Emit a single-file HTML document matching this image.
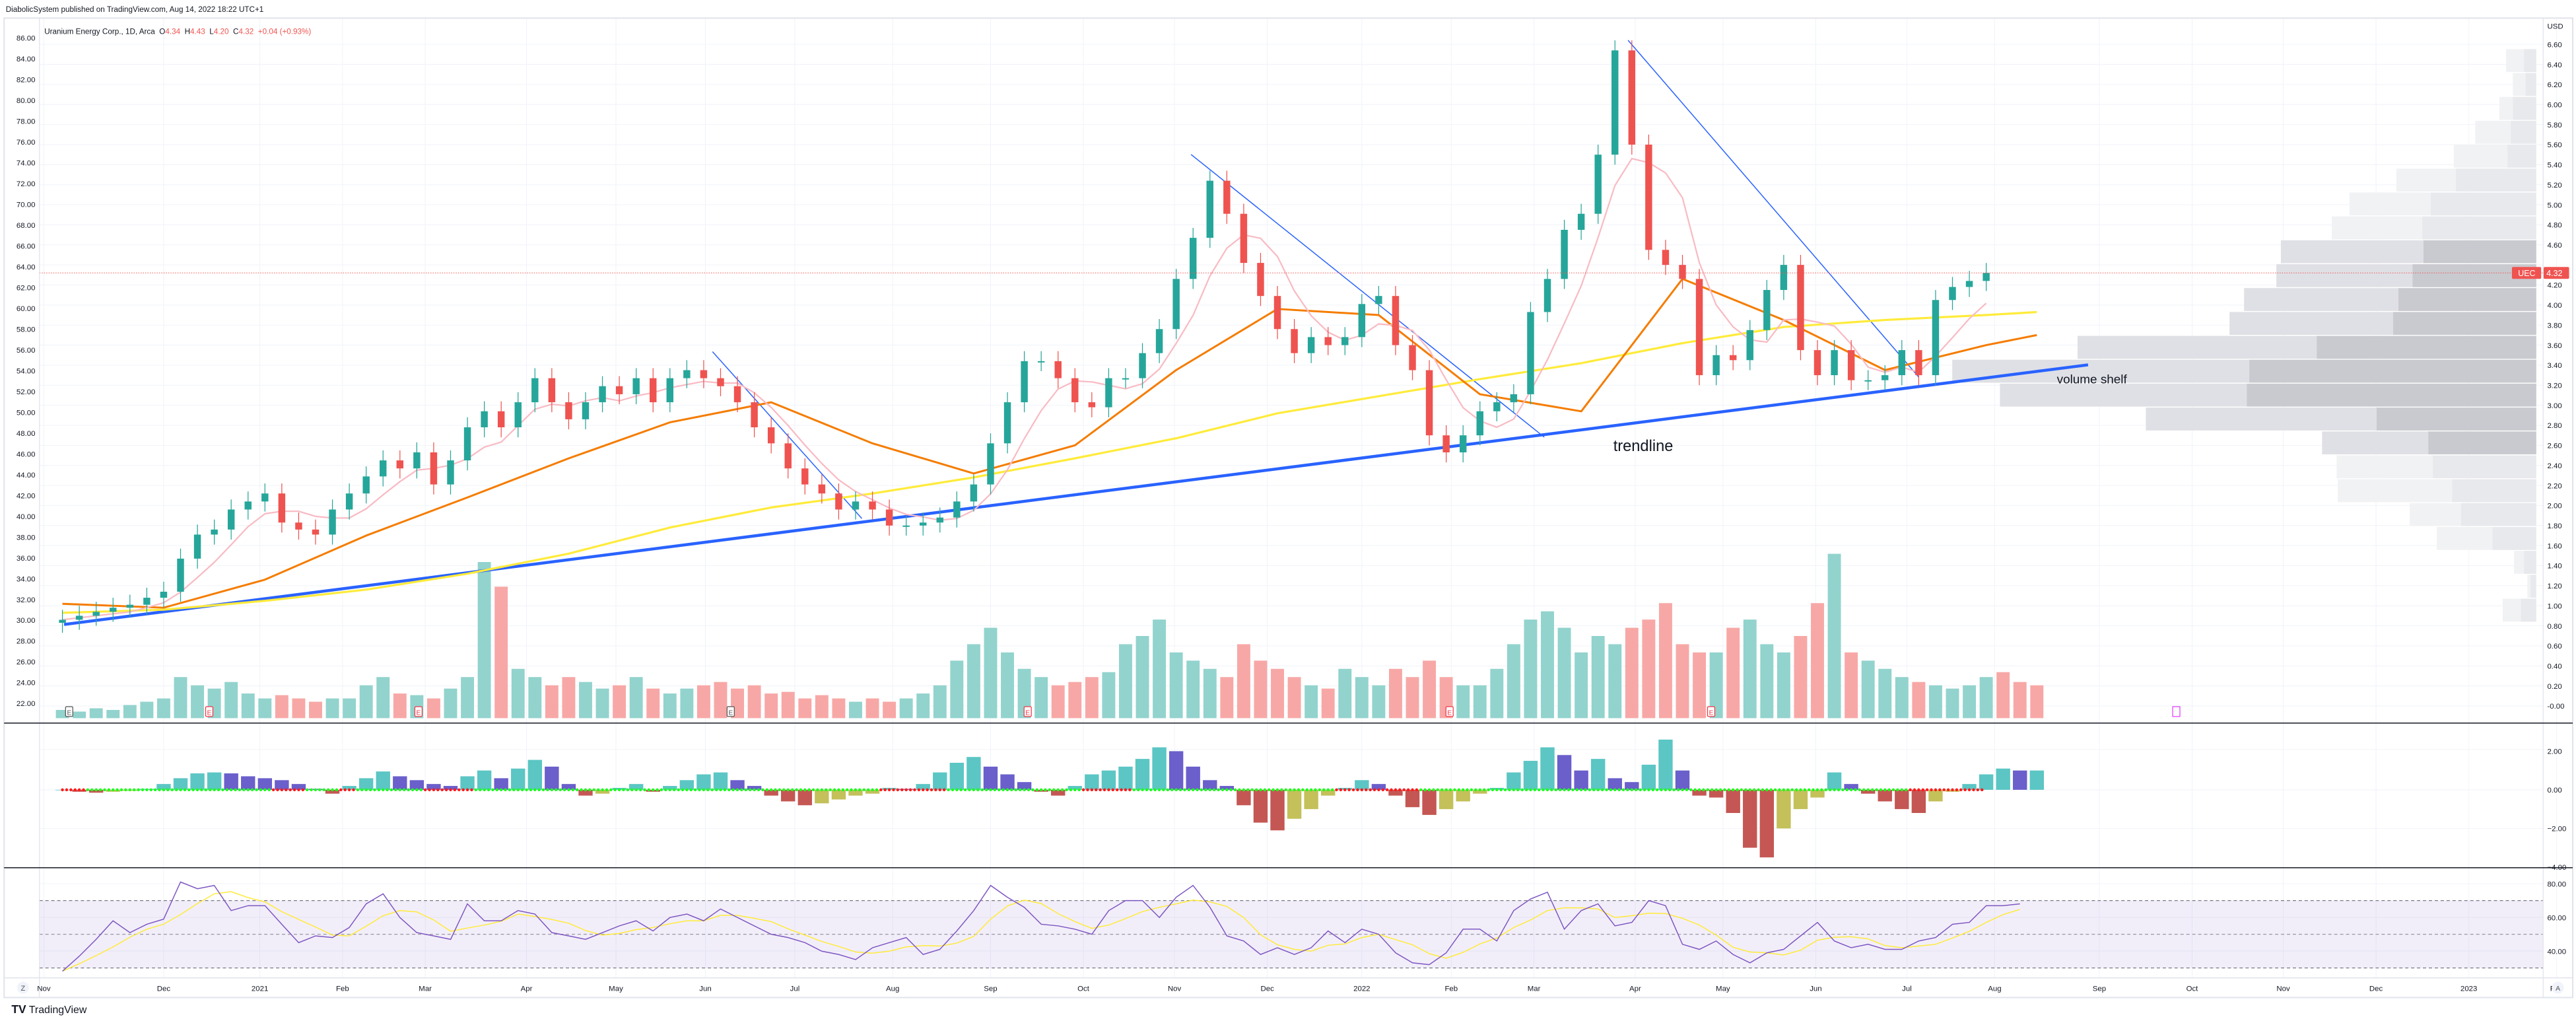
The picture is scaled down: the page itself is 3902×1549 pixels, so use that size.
<!DOCTYPE html>
<html><head><meta charset="utf-8"><title>UEC chart</title>
<style>
html,body{margin:0;padding:0;background:#fff;}
svg{display:block;font-family:"Liberation Sans",sans-serif;}
</style></head>
<body>
<svg id="chart" width="3902" height="1549" viewBox="0 0 1568 622.5" preserveAspectRatio="none" xmlns="http://www.w3.org/2000/svg"></svg>
<script>
// ---------- data ----------
const closes = [0.86,0.90,0.94,0.98,1.01,1.08,1.14,
1.47,1.71,1.76,1.96,2.04, 2.12,1.83,1.76,1.71,1.96, 2.12,2.29,2.45,2.37,2.53, 2.21,2.45,2.78,2.94,2.78,
3.03,3.27,3.03,2.86,3.03, 3.19,3.11,3.27,3.03,3.27, 3.35,3.27,3.19,3.03,2.78, 2.62,2.37,2.21,2.12,1.96,
2.04,1.96,1.80,1.80,1.83, 1.88,2.04,2.21,2.62,3.03, 3.44,3.44,3.27,3.03,2.98, 3.27,3.27,3.52,3.76,4.26,
4.67,5.24,4.91,4.42,4.09, 3.76,3.52,3.68,3.60,3.68, 4.01,4.09,3.60,3.35,2.70, 2.53,2.70,2.94,3.03,3.11,
3.93,4.26,4.75,4.91,5.50, 6.54,5.60,4.55,4.40,4.26, 3.30,3.50,3.45,3.75,4.15, 4.40,3.55,3.30,3.55,3.25,
3.25,3.30,3.55,3.30,4.05, 4.18,4.24,4.32];
const volumes = [5,4,6,5,8,10,12, 25,20,18,22,15,12, 14,12,10,12,12, 20,25,15,14,12, 18,25,95,80,30,
25,20,25,22,18, 20,25,18,15,18,20, 22,18,20,15,16, 12,14,12,10,12,10, 12,15,20,35,45, 55,40,30,25,20,
22,25,28,45,50, 60,40,35,30,25, 45,35,30,25,20,18, 30,25,20,30,25,35, 25,20,20,30,45, 60,65,55,40,50,45,
55,60,70,45,40, 40,55,60,45,40,50, 70,100,40,35,30, 25,22,20,18,20, 25,28,22,20];
const macdHist = [0,-0.1,-0.15,-0.1,-0.05,0.05, 0.3,0.6,0.85,0.9,0.85,0.7, 0.6,0.5,0.3,0.05,-0.2,
0.2,0.6,0.95,0.7,0.5, 0.3,0.2,0.7,1.0,0.6,1.1, 1.55,1.2,0.3,-0.3,-0.2, 0.1,0.3,-0.1,0.2,0.5,0.8,
0.9,0.5,0.2,-0.3,-0.6, -0.8,-0.7,-0.5,-0.3,-0.2,0.1, 0.05,0.3,0.9,1.4,1.7, 1.2,0.8,0.4,-0.1,-0.3,
0.2,0.8,1.0,1.2,1.6, 2.2,2.0,1.2,0.5,0.2, -0.8,-1.7,-2.1,-1.5,-1.0,-0.3, 0.1,0.5,0.3,-0.3,-0.9,-1.3,
-1.0,-0.6,-0.2,0.1,0.9, 1.5,2.2,1.8,1.0,1.6,0.6, 0.4,1.3,2.6,1.0,-0.3, -0.4,-1.2,-3.0,-3.5,-2.0,-1.0,
-0.4,0.9,0.3,-0.2,-0.6, -1.0,-1.2,-0.6,-0.1,0.3, 0.8,1.1,1.0,1.0];
const squeezeOn = [0,1,13,14,17,22,23,24,49,50,51,52,61,62,63,76,77,78,79,80,110,111,112,113,114];
const rsi = [28,37,47,58,51,56,59,81,77,79,64,67,67,56,45,49,48,54,68,74,60,51,49,47,68,58,58,64,62,51,49,47,51,
55,58,52,60,62,58,65,60,55,50,48, 45,40,38,35,42,
45,48,38,41,52,64,79,72,66,56,55,53,50,64,70,70,60,72,79,66,49,46,38,42,38,42,52,45,53,50,39,33,32,39,53,53,46,
64,71,75,53,64,68,55,57,70,67,44,41,46,38,33,39,41,49,57,46,42,44,41,41,46,48,56,57,67,67,68];
const ma200 = [0.93,0.96,1.05,1.16,1.32,1.52,1.78,1.98,2.12,2.28,2.47,2.67,2.92,3.09,3.26,3.42,3.62,3.78,3.85,3.90,3.93];
const ma50 = [1.02,0.98,1.26,1.70,2.08,2.47,2.83,3.03,2.62,2.32,2.60,3.35,3.96,3.90,3.11,2.94,4.26,3.85,3.35,3.60,3.70];
const maIndex = [0,6,12,18,24,30,36,42,48,54,60,66,72,78,84,90,96,102,108,114,117];
const vpTotal = [75,58,91,151,204,346,462,506,632,643,723,759,1135,1445,1327,966,530,494,491,313,246,55,22,83];
const vpDown  = [30,26,58,63,71,199,261,282,279,306,341,354,543,710,716,395,267,256,208,186,108,30,14,38];
const vpValueArea = [8,9,10,11,12,13,14,15,16];
const rightTicks = [6.6,6.4,6.2,6.0,5.8,5.6,5.4,5.2,5.0,4.8,4.6,4.4,4.2,4.0,3.8,3.6,3.4,3.2,3.0,2.8,2.6,2.4,2.2,2.0,1.8,1.6,1.4,1.2,1.0,0.8,0.6,0.4,0.2,0];
const leftTicks = [86,84,82,80,78,76,74,72,70,68,66,64,62,60,58,56,54,52,50,48,46,44,42,40,38,36,34,32,30,28,26,24,22];
const monthLabels = ["Nov","Dec","2021","Feb","Mar","Apr","May","Jun","Jul","Aug","Sep","Oct","Nov","Dec","2022","Feb","Mar","Apr","May","Jun","Jul","Aug","Sep","Oct","Nov","Dec","2023","Feb"];
const monthPos = [-1.1,6.0,11.7,16.6,21.5,27.5,32.8,38.1,43.4,49.2,55.0,60.5,65.9,71.4,77.0,82.3,87.2,93.2,98.4,103.9,109.3,114.5,120.7,126.2,131.6,137.1,142.6,147.8];
const earnings = [0.4,8.7,21.1,39.6,57.2,82.2,97.7];

// ---------- scales ----------
const NS="http://www.w3.org/2000/svg";
const svg=document.getElementById('chart');
const X0=38, X1=1209;
const n=closes.length;
const step=(X1-X0)/(n-1);
function xOf(i){return X0+i*step;}
function pY(p){return 27+(6.6-p)*61;}
function lY(v){return 23+(86-v)*6.328;}
function volY(v){return 437-v;}
function mY(v){return 480.6-v*11.75;}
function rY(v){return 548+(70-v)*1.025;}
function mk(tag,attrs,parent){const e=document.createElementNS(NS,tag);for(const k in attrs)e.setAttribute(k,attrs[k]);(parent||svg).appendChild(e);return e;}
function txt(s,x,y,size,fill,anchor,parent){const e=mk('text',{x:x,y:y,'font-size':size,fill:fill,'text-anchor':anchor||'start'},parent);e.textContent=s;return e;}

let g=mk('g',{});


rightTicks.forEach(t=>{mk('line',{x1:24,x2:1548,y1:pY(t),y2:pY(t),stroke:'#f0f3fa','stroke-width':0.4},g);});
[456.1,480.6,504.1].forEach(y=>mk('line',{x1:24,x2:1548,y1:y,y2:y,stroke:'#f0f3fa','stroke-width':0.4},g));
[537.7,558.2,578.7].forEach(y=>mk('line',{x1:24,x2:1548,y1:y,y2:y,stroke:'#f0f3fa','stroke-width':0.4},g));
monthPos.forEach(m=>{const x=xOf(m);mk('line',{x1:x,x2:x,y1:11,y2:595,stroke:'#f0f3fa','stroke-width':0.4},g);});

g=mk('g',{});


const VPK=0.246, VPR=1543.8, vpTop=29.9, vpH=14.54;
vpTotal.forEach((v,r)=>{
  const inVA=vpValueArea.includes(r);
  const y=vpTop+r*vpH;
  const a=mk('rect',{x:VPR-v*VPK,y:y,width:v*VPK,height:vpH-0.6,fill:inVA?'#dfe0e5':'#f1f2f4'},g);
  
  const b=mk('rect',{x:VPR-vpDown[r]*VPK,y:y,width:vpDown[r]*VPK,height:vpH-0.6,fill:inVA?'#c9cacf':'#e8e9ec'},g);
  
});

g=mk('g',{});


volumes.forEach((v,i)=>{
  const up=i===0||closes[i]>=closes[i-1];
  const r=mk('rect',{x:xOf(i)-4,y:volY(v),width:8,height:v,fill:up?'#92d3cd':'#f7a8a6'},g);
  
});

earnings.forEach((e,k)=>{
  const x=xOf(e);
  const r=mk('rect',{x:x-2.2,y:430,width:4.4,height:6,fill:'#fff',stroke:(k===0||k===3)?'#555':'#f23645','stroke-width':0.5,rx:0.6});
  
  
  txt('E',x,435,4,(k===0||k===3)?'#555':'#f23645','middle');
});
{const r=mk('rect',{x:1322.5,y:430,width:4.4,height:6,fill:'#fff',stroke:'#e040fb','stroke-width':0.5});

}

g=mk('g',{});


let ln=mk('line',{x1:39,y1:380,x2:1271,y2:222,stroke:'#2962ff','stroke-width':1.8},g);

ln=mk('line',{x1:433.7,y1:214,x2:524.6,y2:315.5,stroke:'#2962ff','stroke-width':0.6},g);

ln=mk('line',{x1:725,y1:94,x2:940,y2:266,stroke:'#2962ff','stroke-width':0.6},g);

ln=mk('line',{x1:991,y1:24.5,x2:1168,y2:229.5,stroke:'#2962ff','stroke-width':0.6},g);


function polyFrom(idx,vals){return idx.map((i,k)=>xOf(i).toFixed(1)+','+pY(vals[k]).toFixed(1)).join(' ');}
let pl=mk('polyline',{points:polyFrom(maIndex,ma200),fill:'none',stroke:'#ffeb3b','stroke-width':1.3,'stroke-linejoin':'round'});

pl=mk('polyline',{points:polyFrom(maIndex,ma50),fill:'none',stroke:'#f57c00','stroke-width':1.2,'stroke-linejoin':'round'});

const sma5=closes.map((c,i)=>{const s=closes.slice(Math.max(0,i-4),i+1);return s.reduce((a,b)=>a+b,0)/s.length;});
pl=mk('polyline',{points:sma5.map((v,i)=>xOf(i).toFixed(1)+','+pY(v).toFixed(1)).join(' '),fill:'none',stroke:'#f8bbc4','stroke-width':0.9});


g=mk('g',{});


closes.forEach((c,i)=>{
  const o=i===0?c-0.03:closes[i-1];
  const up=c>=o;
  const col=up?'#26a69a':'#ef5350';
  const hi=Math.max(o,c)+0.1, lo=Math.min(o,c)-0.1;
  const w=mk('line',{x1:xOf(i),x2:xOf(i),y1:pY(hi),y2:pY(lo),stroke:col,'stroke-width':0.5},g);
  
  const top=pY(Math.max(o,c)), h=Math.max(0.8,Math.abs(pY(o)-pY(c)));
  const b=mk('rect',{x:xOf(i)-2.1,y:top,width:4.2,height:h,fill:col},g);
  
});

ln=mk('line',{x1:24,x2:1548,y1:pY(4.32),y2:pY(4.32),stroke:'#ef5350','stroke-width':0.4,'stroke-dasharray':'0.6,0.8'});

let tag=mk('rect',{x:1529,y:pY(4.32)-3.6,width:17.8,height:7.2,fill:'#ef5350',rx:0.8});

txt('UEC',1538,pY(4.32)+1.9,5,'#fff','middle');
tag=mk('rect',{x:1548.3,y:pY(4.32)-3.6,width:15.5,height:7.2,fill:'#ef5350',rx:0.8});

txt('4.32',1550,pY(4.32)+1.9,5,'#fff');

txt('trendline',982,274.5,9.5,'#131722');
txt('volume shelf',1252,233.2,7.6,'#131722');

g=mk('g',{});


macdHist.forEach((v,i)=>{
  const prev=i>0?macdHist[i-1]:0;
  let col;
  if(v>=0) col=v>=prev?'#5bc6c4':'#6a5fcb'; else col=v<=prev?'#c45753':'#c4c05a';
  const y=Math.min(mY(v),mY(0)), h=Math.abs(mY(v)-mY(0));
  const r=mk('rect',{x:xOf(i)-4.3,y:y,width:8.6,height:Math.max(h,0.3),fill:col},g);
  
});
for(let k=0;k<n-1;k+=0.25){
  const near=squeezeOn.includes(Math.round(k));
  const d=mk('circle',{cx:xOf(k),cy:mY(0),r:0.9,fill:near?'#ff1a1a':'#1aff1a'},g);
  
}

g=mk('g',{});


let band=mk('rect',{x:24,y:rY(70),width:1524,height:rY(30)-rY(70),fill:'#7e57c2','fill-opacity':0.1},g);

[70,50,30].forEach(v=>{const l=mk('line',{x1:24,x2:1548,y1:rY(v),y2:rY(v),stroke:v===50?'#9a98a5':'#787b86','stroke-width':0.5,'stroke-dasharray':'2,1.6'},g);});
const rsiSig=rsi.map((v,i)=>{const s=rsi.slice(Math.max(0,i-3),i+1);return s.reduce((a,b)=>a+b,0)/s.length;});
pl=mk('polyline',{points:rsiSig.map((v,i)=>xOf(i).toFixed(1)+','+rY(v).toFixed(1)).join(' '),fill:'none',stroke:'#ffeb3b','stroke-width':0.6},g);

pl=mk('polyline',{points:rsi.map((v,i)=>xOf(i).toFixed(1)+','+rY(v).toFixed(1)).join(' '),fill:'none',stroke:'#7e57c2','stroke-width':0.6},g);


mk('rect',{x:2.5,y:11,width:1563.5,height:596,fill:'none',stroke:'#e0e3eb','stroke-width':0.8});
mk('line',{x1:24,x2:24,y1:11,y2:607,stroke:'#e0e3eb','stroke-width':0.5});
mk('line',{x1:1548,x2:1548,y1:11,y2:607,stroke:'#e0e3eb','stroke-width':0.5});
mk('line',{x1:2.5,x2:1566,y1:440,y2:440,stroke:'#131722','stroke-width':0.6});
mk('line',{x1:2.5,x2:1566,y1:528,y2:528,stroke:'#131722','stroke-width':0.6});
mk('line',{x1:2.5,x2:1566,y1:595,y2:595,stroke:'#e0e3eb','stroke-width':0.6});

g=mk('g',{});


txt('USD',1550.5,17.5,4.6,'#131722',null,g);
rightTicks.forEach(t=>{if(Math.abs(t-4.4)<0.01)return;txt(t===0?'-0.00':t.toFixed(2),1550.5,pY(t)+1.7,4.6,'#131722',null,g);});
g=mk('g',{});


leftTicks.forEach(t=>txt(t.toFixed(2),21.5,lY(t)+1.7,4.6,'#131722','end',g));
g=mk('g',{});


[[2,'2.00'],[0,'0.00'],[-2,'−2.00'],[-4,'−4.00']].forEach(a=>txt(a[1],1550.5,mY(a[0])+1.7,4.6,'#131722',null,g));
g=mk('g',{});


[80,60,40].forEach(v=>txt(v.toFixed(2),1550.5,rY(v)+1.7,4.6,'#131722',null,g));
g=mk('g',{});


monthLabels.forEach((m,k)=>txt(m,xOf(monthPos[k]),603,4.6,'#131722','middle',g));

let c=mk('circle',{cx:14,cy:601,r:3.6,fill:'#f0f3fa'});


txt('Z',14,602.8,4.4,'#555','middle');
c=mk('circle',{cx:1557,cy:601,r:3.6,fill:'#f0f3fa'});


txt('A',1557,602.8,4.2,'#555','middle');

txt('DiabolicSystem published on TradingView.com, Aug 14, 2022 18:22 UTC+1',3.5,7.3,4.7,'#131722');
const leg=mk('text',{x:27,y:20.8,'font-size':4.7,fill:'#131722'});

leg.innerHTML='Uranium Energy Corp., 1D, Arca\u00a0\u00a0O<tspan fill="#ef5350">4.34</tspan>\u00a0\u00a0H<tspan fill="#ef5350">4.43</tspan>\u00a0\u00a0L<tspan fill="#ef5350">4.20</tspan>\u00a0\u00a0C<tspan fill="#ef5350">4.32</tspan>\u00a0\u00a0<tspan fill="#ef5350">+0.04 (+0.93%)</tspan>';
const logo=mk('text',{x:7,y:616.5,'font-size':6.4,fill:'#131722'});

logo.innerHTML='<tspan font-weight="bold" font-size="7">TV</tspan> TradingView';
</script>
</body></html>
